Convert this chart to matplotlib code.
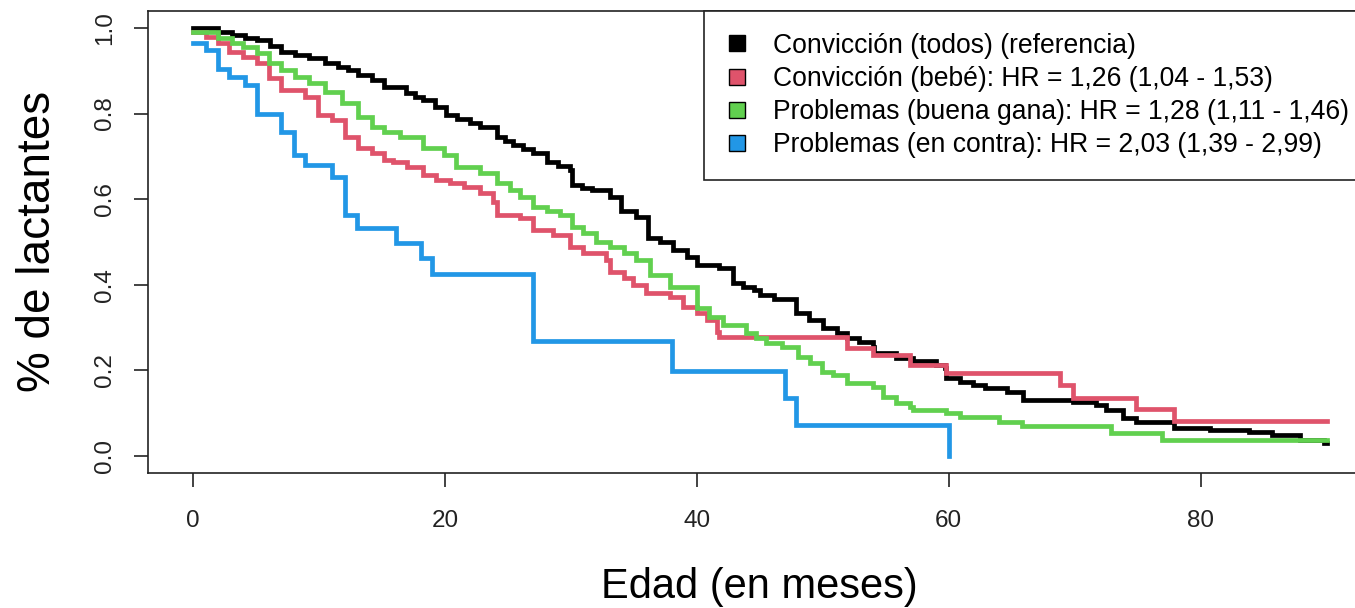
import matplotlib
matplotlib.use("Agg")
import matplotlib.pyplot as plt
from matplotlib.lines import Line2D

plt.rcParams['font.family'] = ['Liberation Sans', 'DejaVu Sans']

# Kaplan-Meier curves (time in months, survival)
black_t = [0, 2.0, 3.1, 4.1, 5.1, 6.1, 7.0, 8.1, 9.2, 10.5, 11.5, 12.3, 13.1, 14.2, 15.2,
           16.9, 17.6, 18.3, 19.2, 20.1, 21.0, 22.0, 22.8, 24.1, 24.8, 25.4, 26.2, 27.0,
           28.1, 29.0, 29.9, 30.1, 30.9, 31.7, 33.1, 34.0, 35.2, 36.1, 37.1, 38.1, 39.2,
           40.0, 41.8, 42.9, 43.7, 44.5, 45.0, 46.1, 47.9, 48.9, 50.0, 51.1, 51.9, 52.9,
           54.0, 54.1, 55.8, 57.2, 59.0, 59.7, 59.8, 60.9, 61.9, 62.9, 64.6, 65.9, 69.9,
           71.7, 72.5, 73.8, 74.9, 77.9, 80.7, 83.8, 85.7, 87.9, 89.8, 90.0]
black_s = [1.0, 0.992, 0.984, 0.976, 0.971, 0.957, 0.945, 0.937, 0.929, 0.918, 0.910, 0.902,
           0.890, 0.879, 0.863, 0.849, 0.840, 0.831, 0.815, 0.797, 0.788, 0.778, 0.769,
           0.746, 0.737, 0.727, 0.718, 0.708, 0.687, 0.678, 0.668, 0.633, 0.627, 0.621,
           0.606, 0.571, 0.559, 0.508, 0.500, 0.481, 0.465, 0.446, 0.438, 0.403, 0.395,
           0.387, 0.376, 0.366, 0.333, 0.317, 0.298, 0.286, 0.274, 0.266, 0.255, 0.239,
           0.228, 0.222, 0.212, 0.204, 0.181, 0.173, 0.165, 0.157, 0.149, 0.130, 0.126,
           0.118, 0.107, 0.087, 0.079, 0.064, 0.060, 0.056, 0.048, 0.037, 0.030, 0.030]

red_t = [0, 1.0, 2.0, 2.9, 4.0, 5.1, 6.0, 7.0, 8.9, 9.9, 11.0, 12.1, 13.1, 14.2, 15.2, 15.9,
         17.0, 18.3, 19.3, 20.4, 21.5, 22.8, 23.8, 24.1, 26.0, 27.0, 28.6, 29.9, 31.0, 32.8,
         33.1, 34.2, 34.9, 36.0, 37.9, 38.9, 40.0, 40.8, 41.6, 41.8, 51.9, 54.0, 56.9,
         59.8, 68.8, 69.9, 74.9, 77.9, 90.0]
red_s = [0.99, 0.980, 0.964, 0.945, 0.933, 0.918, 0.883, 0.855, 0.840, 0.797, 0.785, 0.746,
         0.719, 0.707, 0.691, 0.687, 0.676, 0.656, 0.645, 0.637, 0.629, 0.614, 0.594, 0.563,
         0.555, 0.528, 0.516, 0.489, 0.473, 0.458, 0.430, 0.415, 0.399, 0.380, 0.372,
         0.348, 0.333, 0.317, 0.290, 0.278, 0.251, 0.235, 0.212, 0.193, 0.165, 0.134,
         0.108, 0.082, 0.082]

green_t = [0, 2.0, 3.1, 4.0, 5.1, 6.0, 7.0, 8.1, 9.2, 10.5, 11.8, 13.1, 14.2, 15.2, 16.4,
           18.3, 19.9, 20.9, 22.8, 24.1, 25.2, 26.0, 27.0, 28.1, 29.1, 30.1, 31.0, 32.0,
           33.1, 34.2, 35.2, 36.3, 37.9, 40.0, 41.0, 42.1, 43.9, 44.7, 45.5, 46.8, 48.0,
           49.0, 49.9, 50.8, 51.9, 54.0, 54.8, 55.8, 56.9, 57.2, 59.8, 60.9, 64.0, 65.8,
           72.9, 76.9, 90.0]
green_s = [0.99, 0.977, 0.964, 0.956, 0.941, 0.918, 0.902, 0.886, 0.871, 0.851, 0.824, 0.793,
           0.769, 0.758, 0.746, 0.719, 0.703, 0.676, 0.660, 0.637, 0.621, 0.606, 0.582,
           0.571, 0.563, 0.535, 0.520, 0.500, 0.489, 0.473, 0.457, 0.422, 0.395, 0.345,
           0.325, 0.305, 0.286, 0.274, 0.263, 0.255, 0.231, 0.216, 0.196, 0.189, 0.169,
           0.161, 0.138, 0.122, 0.114, 0.107, 0.099, 0.091, 0.079, 0.069, 0.052, 0.036,
           0.036]

blue_t = [0, 1.0, 2.0, 2.9, 4.1, 5.1, 7.0, 8.0, 8.9, 11.0, 12.1, 13.0, 16.1, 18.1, 19.0,
          27.0, 38.0, 47.0, 47.9, 60.0]
blue_s = [0.966, 0.949, 0.904, 0.886, 0.867, 0.798, 0.758, 0.703, 0.680, 0.652, 0.563,
          0.532, 0.498, 0.462, 0.424, 0.269, 0.199, 0.134, 0.072, 0.0]

labels = ["Convicción (todos) (referencia)",
          "Convicción (bebé): HR = 1,26 (1,04 - 1,53)",
          "Problemas (buena gana): HR = 1,28 (1,11 - 1,46)",
          "Problemas (en contra): HR = 2,03 (1,39 - 2,99)"]
colors = ["#000000", "#DF536B", "#61D04F", "#2297E6"]

x_ticks = [0, 20, 40, 60, 80]
y_ticks = [0.0, 0.2, 0.4, 0.6, 0.8, 1.0]

fig = plt.figure(figsize=(13.55, 6.08), dpi=100)
# the plot box runs past the right edge of the picture, as in the original
ax = fig.add_axes([147.6 / 1355, (608 - 472.7) / 608, 1224.4 / 1355, 461.7 / 608])

curves = [(black_t, black_s), (red_t, red_s), (green_t, green_s), (blue_t, blue_s)]
for (t, s), c in zip(curves, colors):
    ax.step(t, s, where='post', color=c, linewidth=3.4, solid_joinstyle='miter')

ax.set_xlim(-3.6, 93.6)
ax.set_ylim(-0.04, 1.04)
ax.set_xticks(x_ticks)
ax.set_xticklabels([str(v) for v in x_ticks])
ax.set_yticks(y_ticks)
ax.set_yticklabels([f"{v:.1f}" for v in y_ticks], rotation=90, va='center')

ax.tick_params(direction='out', length=10, width=1.2, labelsize=17.5, colors='#222222')
ax.tick_params(axis='x', pad=17)
ax.tick_params(axis='y', pad=13)
for sp in ax.spines.values():
    sp.set_linewidth(1.2)
    sp.set_color('#222222')

ax.set_xlabel("Edad (en meses)", fontsize=30, labelpad=25)
ax.set_ylabel("% de lactantes", fontsize=33, labelpad=24)

# square keys with a thin black edge, like R's legend(fill=...)
handles = [Line2D([], [], linestyle='none', marker='s', markersize=11.5,
                  markerfacecolor=c, markeredgecolor='black', markeredgewidth=1.0)
           for c in colors]
leg = ax.legend(handles, labels, loc='upper left',
                bbox_to_anchor=(0.4544, 0.0, 0.5456, 1.0), mode='expand',
                borderaxespad=0, fontsize=19.1, fancybox=False, framealpha=1,
                edgecolor='#222222', borderpad=0.82, labelspacing=0.27,
                handlelength=0.82, handletextpad=0.96)
leg.get_frame().set_linewidth(1.2)

fig.savefig("out.png", dpi=100)
